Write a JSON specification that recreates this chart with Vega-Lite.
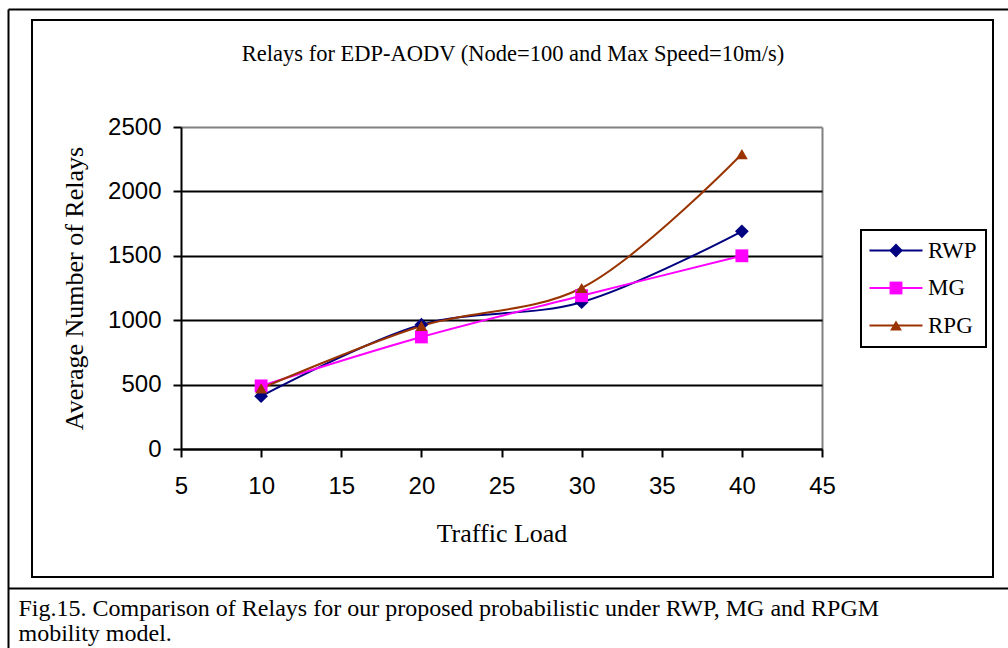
{
  "$schema": "https://vega.github.io/schema/vega-lite/v6.json",
  "autosize": "none",
  "width": 961,
  "height": 557,
  "padding": {"left": 32, "top": 20, "right": 15, "bottom": 71},
  "background": "white",
  "data": {
    "values": [
      {"series": "RWP", "load": 10, "relays": 410},
      {"series": "RWP", "load": 20, "relays": 965},
      {"series": "RWP", "load": 30, "relays": 1140},
      {"series": "RWP", "load": 40, "relays": 1690},
      {"series": "MG", "load": 10, "relays": 490},
      {"series": "MG", "load": 20, "relays": 870},
      {"series": "MG", "load": 30, "relays": 1190},
      {"series": "MG", "load": 40, "relays": 1500},
      {"series": "RPG", "load": 10, "relays": 470},
      {"series": "RPG", "load": 20, "relays": 955},
      {"series": "RPG", "load": 30, "relays": 1250},
      {"series": "RPG", "load": 40, "relays": 2290}
    ]
  },
  "layer": [
    {
      "mark": {"type": "line", "interpolate": "catmull-rom", "strokeWidth": 2},
      "encoding": {
        "x": {
          "field": "load",
          "type": "quantitative",
          "scale": {"domain": [5, 45], "range": [149, 790], "nice": false, "zero": false},
          "axis": {
            "orient": "bottom",
            "offset": -128,
            "values": [5, 10, 15, 20, 25, 30, 35, 40, 45],
            "grid": false,
            "labelFlush": false,
            "labelOverlap": false,
            "labelPadding": 17,
            "title": "Traffic Load",
            "titlePadding": 22
          }
        },
        "y": {
          "field": "relays",
          "type": "quantitative",
          "scale": {"domain": [0, 2500], "range": [429, 107], "nice": false, "zero": false},
          "axis": {
            "orient": "left",
            "offset": -149,
            "values": [0, 500, 1000, 1500, 2000, 2500],
            "format": "d",
            "grid": true,
            "gridColor": {"condition": {"test": "datum.value === 2500", "value": "#808080"}, "value": "black"},
            "labelFlush": false,
            "labelOverlap": false,
            "labelPadding": 12,
            "title": "Average Number of Relays",
            "titlePadding": 20
          }
        },
        "stroke": {
          "field": "series",
          "type": "nominal",
          "sort": ["RWP", "MG", "RPG"],
          "scale": {"range": ["#000080", "#FF00FF", "#993300"]},
          "legend": {
            "orient": "none",
            "legendX": 829,
            "legendY": 210,
            "title": null,
            "symbolType": "M-3.95,0H3.95",
            "symbolSize": 180,
            "symbolStrokeWidth": 2,
            "symbolOffset": 14.5,
            "labelOffset": 20.5,
            "padding": 9,
            "rowPadding": 13.5,
            "strokeColor": "black"
          }
        }
      }
    },
    {
      "mark": {"type": "point", "filled": true, "opacity": 1},
      "encoding": {
        "x": {
          "field": "load",
          "type": "quantitative",
          "scale": {"domain": [5, 45], "range": [149, 790], "nice": false, "zero": false},
          "axis": {
            "orient": "top",
            "values": [45],
            "grid": true,
            "gridColor": "#808080",
            "domain": false,
            "ticks": false,
            "labels": false,
            "title": null
          }
        },
        "y": {
          "field": "relays",
          "type": "quantitative",
          "scale": {"domain": [0, 2500], "range": [429, 107], "nice": false, "zero": false},
          "axis": null
        },
        "size": {
          "field": "series",
          "type": "nominal",
          "scale": {"domain": ["RWP", "MG", "RPG"], "range": [190, 140, 280]},
          "legend": null
        },
        "color": {
          "field": "series",
          "type": "nominal",
          "scale": {"domain": ["RWP", "MG", "RPG"], "range": ["#000080", "#FF00FF", "#993300"]},
          "legend": {
            "orient": "none",
            "legendX": 829,
            "legendY": 210,
            "title": null,
            "symbolSize": 180,
            "symbolStrokeWidth": 2,
            "symbolOffset": 14.5,
            "labelOffset": 20.5,
            "padding": 9,
            "rowPadding": 13.5,
            "labelOpacity": 0
          }
        },
        "shape": {
          "field": "series",
          "type": "nominal",
          "scale": {"domain": ["RWP", "MG", "RPG"], "range": ["diamond", "square", "triangle-up"]},
          "legend": {
            "orient": "none",
            "legendX": 829,
            "legendY": 210,
            "title": null,
            "symbolSize": 180,
            "symbolStrokeWidth": 2,
            "symbolOffset": 14.5,
            "labelOffset": 20.5,
            "padding": 9,
            "rowPadding": 13.5,
            "labelOpacity": 0
          }
        }
      }
    },
    {
      "mark": {"type": "point", "opacity": 0},
      "encoding": {
        "x": {
          "field": "load",
          "type": "quantitative",
          "scale": {"domain": [0, 1000], "range": [-24, 985], "nice": false, "zero": false},
          "axis": {
            "orient": "top",
            "values": [0],
            "grid": true,
            "gridColor": "black",
            "gridWidth": 2,
            "domain": false,
            "ticks": false,
            "labels": false,
            "title": "Relays for EDP-AODV (Node=100 and Max Speed=10m/s)",
            "titleFont": "Liberation Serif",
            "titleFontSize": 22.5,
            "titleY": 45,
            "titleBaseline": "bottom"
          }
        },
        "y": {
          "field": "load",
          "type": "quantitative",
          "scale": {"domain": [0, 651], "range": [-11, 640], "nice": false, "zero": false},
          "axis": {
            "orient": "right",
            "values": [0, 579],
            "grid": true,
            "gridColor": "black",
            "gridWidth": 2,
            "domain": false,
            "ticks": false,
            "labels": false,
            "title": ["Fig.15. Comparison of Relays for our proposed probabilistic under RWP, MG and RPGM", "mobility model."],
            "titleAngle": 0,
            "titleX": -975,
            "titleY": 576,
            "titleAlign": "left",
            "titleBaseline": "top",
            "titleFont": "Liberation Serif",
            "titleFontSize": 24,
            "titleLineHeight": 25.5
          }
        }
      }
    }
  ],
  "resolve": {"scale": {"x": "independent", "y": "independent"}},
  "config": {
    "view": {"stroke": "black", "strokeWidth": 2},
    "axis": {
      "labelFont": "Liberation Sans",
      "labelFontSize": 24,
      "labelColor": "black",
      "titleFont": "Liberation Serif",
      "titleFontSize": 26,
      "titleFontWeight": "normal",
      "titleColor": "black",
      "domainColor": "black",
      "domainWidth": 2,
      "tickColor": "black",
      "tickWidth": 2,
      "tickSize": 8,
      "gridWidth": 2,
      "gridOpacity": 1
    },
    "legend": {
      "labelFont": "Liberation Serif",
      "labelFontSize": 23,
      "labelColor": "black",
      "strokeWidth": 2
    }
  }
}
